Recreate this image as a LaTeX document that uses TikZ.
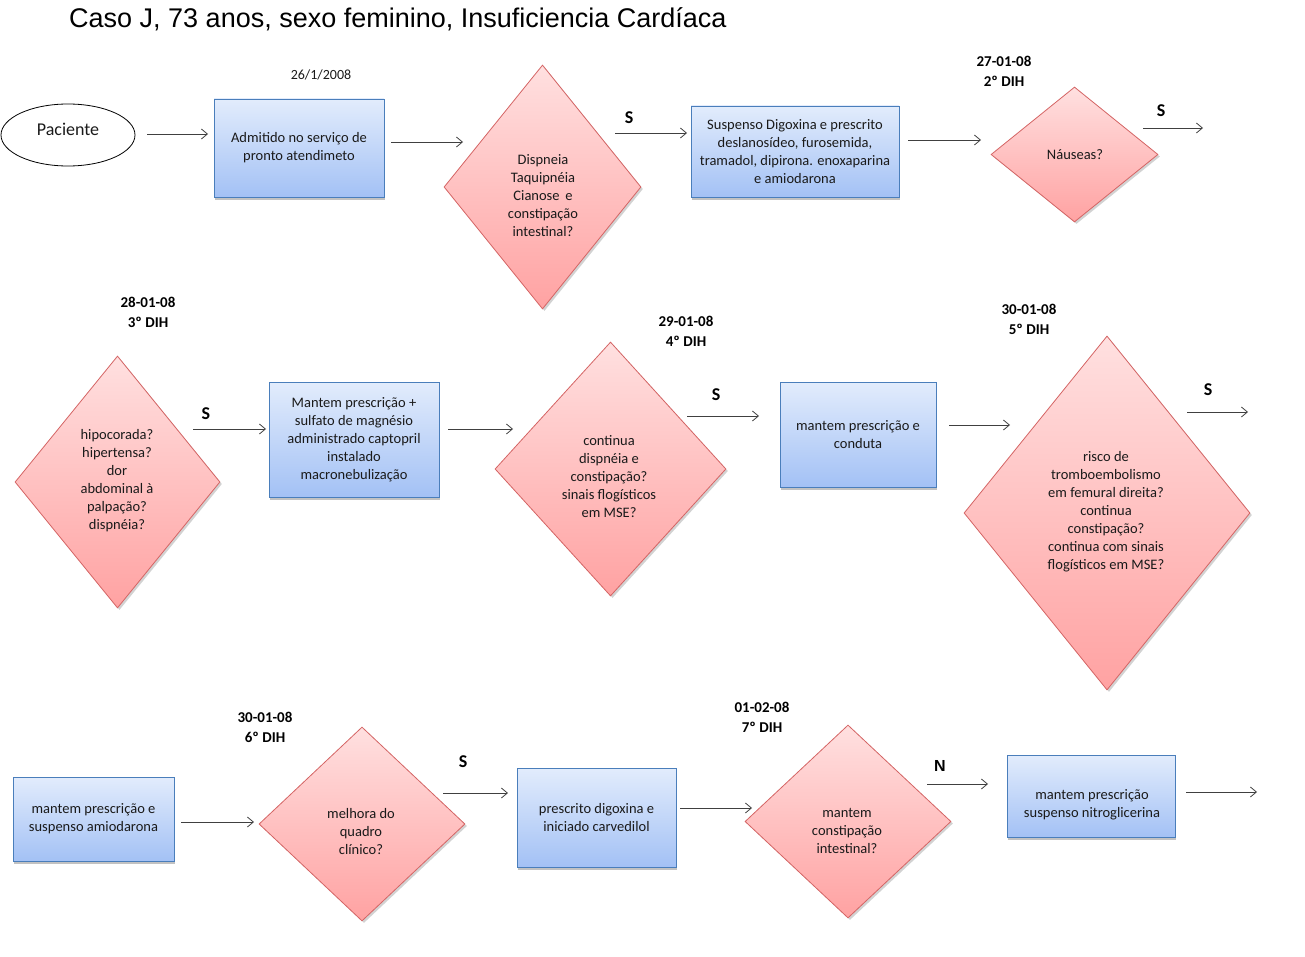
\documentclass[tikz,border=0pt]{standalone}
\usepackage{fontspec}
\setmainfont{Carlito}
\newfontfamily\arialf{Liberation Sans}
\usetikzlibrary{shapes.geometric,shadows,arrows.meta}
\definecolor{boxtop}{HTML}{E2ECFC}
\definecolor{boxbot}{HTML}{A3C1F5}
\definecolor{boxborder}{HTML}{4A7EBB}
\definecolor{dtop}{HTML}{FFE0E0}
\definecolor{dbot}{HTML}{FFA2A2}
\definecolor{dborder}{HTML}{D46464}
\definecolor{arrowc}{HTML}{404040}
\definecolor{txtc}{HTML}{1A1A1A}
\begin{document}
\begin{tikzpicture}[x=1pt,y=-1pt,
  body/.style={font=\fontsize{14.5}{18}\selectfont, text=txtc, align=center, inner sep=0pt},
  procbox/.style={rectangle, draw=boxborder, line width=0.8pt, top color=boxtop, bottom color=boxbot,
     drop shadow={shadow xshift=1pt, shadow yshift=-3pt, fill=black!40, opacity=0.6},
     body},
  decision/.style={diamond, draw=dborder, line width=0.8pt, top color=dtop, bottom color=dbot, inner sep=0pt,
     drop shadow={shadow xshift=2pt, shadow yshift=-2pt, fill=black!35, opacity=0.5}},
  datelbl/.style={font=\bfseries\fontsize{15}{20}\selectfont, align=center, inner sep=0pt},
  yes/.style={font=\bfseries\fontsize{18}{18}\selectfont, inner sep=0pt},
  flow/.style={draw=arrowc, line width=0.8pt, -{Straight Barb[length=6pt,width=10pt]}}
]
\useasboundingbox (0,0) rectangle (1305,957);

% title
\node[anchor=west, inner sep=0pt, font=\arialf\fontsize{27}{30}\selectfont] (title) at (69,19) {Caso J, 73 anos, sexo feminino, Insuficiencia Cardíaca};

% row 1
\node[ellipse, draw=black, line width=0.8pt, minimum width=134, minimum height=62, inner sep=0pt] (pac) at (68,135) {};
\node[body, font=\fontsize{18}{20}\selectfont] (pact) at (68,129) {Paciente};
\node[body, font=\fontsize{14}{18}\selectfont] (date0) at (321,75) {26/1/2008};
\node[procbox, minimum width=170, minimum height=98] (b1) at (299,148) {Admitido no serviço de\\pronto atendimeto};
\node[decision, minimum width=197, minimum height=244] (d1) at (542.5,187) {};
\node[body] (d1t) at (543,196) {Dispneia\\Taquipnéia\\Cianose\, e\\constipação\\intestinal?};
\node[procbox, minimum width=208, minimum height=91] (b2) at (795,151.5) {Suspenso Digoxina e prescrito\\deslanosídeo, furosemida,\\tramadol, dipirona. enoxaparina\\e amiodarona};
\node[datelbl] (date1) at (1004,71.5) {27-01-08\\2º DIH};
\node[decision, minimum width=167, minimum height=135] (d2) at (1074.5,154.5) {};
\node[body] (d2t) at (1075,155) {Náuseas?};

% row 2
\node[datelbl] (date2) at (148,312) {28-01-08\\3º DIH};
\node[decision, minimum width=205, minimum height=252] (d3) at (117.5,482) {};
\node[body] (d3t) at (117,481) {hipocorada?\\hipertensa?\\dor\\abdominal à\\palpação?\\dispnéia?};
\node[procbox, minimum width=170, minimum height=115] (b3) at (354,439.5) {Mantem prescrição +\\sulfato de magnésio\\administrado captopril\\instalado\\macronebulização};
\node[datelbl] (date3) at (686,331) {29-01-08\\4º DIH};
\node[decision, minimum width=231, minimum height=254] (d4) at (610.5,469) {};
\node[body] (d4t) at (609,477) {continua\\dispnéia e\\constipação?\\sinais flogísticos\\em MSE?};
\node[procbox, minimum width=156, minimum height=105] (b4) at (858,434.5) {mantem prescrição e\\conduta};
\node[datelbl] (date4) at (1029,319) {30-01-08\\5º DIH};
\node[decision, minimum width=286, minimum height=354] (d5) at (1107,513) {};
\node[body] (d5t) at (1106,511.5) {risco de\\tromboembolismo\\em femural direita?\\continua\\constipação?\\continua com sinais\\flogísticos em MSE?};

% row 3
\node[procbox, minimum width=161, minimum height=84] (b5) at (93.5,819) {mantem prescrição e\\suspenso amiodarona};
\node[datelbl] (date5) at (265,727) {30-01-08\\6º DIH};
\node[decision, minimum width=206, minimum height=194] (d6) at (362,824) {};
\node[body] (d6t) at (361,832) {melhora do\\quadro\\clínico?};
\node[procbox, minimum width=159, minimum height=99] (b6) at (596.5,817.5) {prescrito digoxina e\\iniciado carvedilol};
\node[datelbl] (date6) at (762,717) {01-02-08\\7º DIH};
\node[decision, minimum width=206, minimum height=193] (d7) at (848,821.5) {};
\node[body] (d7t) at (847,831) {mantem\\constipação\\intestinal?};
\node[procbox, minimum width=168, minimum height=82] (b7) at (1091,796) {};
\node[body] (b7t) at (1092,805) {mantem prescrição\\suspenso nitroglicerina};

% labels
\node[yes] (s1) at (629,118) {S};
\node[yes] (s2) at (1161,111) {S};
\node[yes] (s3) at (206,414) {S};
\node[yes] (s4) at (716,395) {S};
\node[yes] (s5) at (1208,390) {S};
\node[yes] (s6) at (463,762) {S};
\node[font=\arialf\bfseries\fontsize{16}{18}\selectfont, inner sep=0pt] (n1) at (940,766) {N};

% connector end points
\coordinate (a1s) at (147,134);  \coordinate (a1e) at (208,134);
\coordinate (a2s) at (391,142);  \coordinate (a2e) at (463,142);
\coordinate (a3s) at (615,133);  \coordinate (a3e) at (687,133);
\coordinate (a4s) at (908,140);  \coordinate (a4e) at (981,140);
\coordinate (a5s) at (1143,128); \coordinate (a5e) at (1203,128);
\coordinate (a6s) at (193,429);  \coordinate (a6e) at (266,429);
\coordinate (a7s) at (448,429);  \coordinate (a7e) at (513,429);
\coordinate (a8s) at (687,416);  \coordinate (a8e) at (759,416);
\coordinate (a9s) at (949,425);  \coordinate (a9e) at (1010,425);
\coordinate (a10s) at (1187,412); \coordinate (a10e) at (1248,412);
\coordinate (a11s) at (181,822); \coordinate (a11e) at (254,822);
\coordinate (a12s) at (443,793); \coordinate (a12e) at (508,793);
\coordinate (a13s) at (680,808); \coordinate (a13e) at (752,808);
\coordinate (a14s) at (927,784); \coordinate (a14e) at (988,784);
\coordinate (a15s) at (1186,792); \coordinate (a15e) at (1257,792);

\foreach \i in {1,...,15} {\draw[flow] (a\i s) -- (a\i e);}
\end{tikzpicture}
\end{document}
